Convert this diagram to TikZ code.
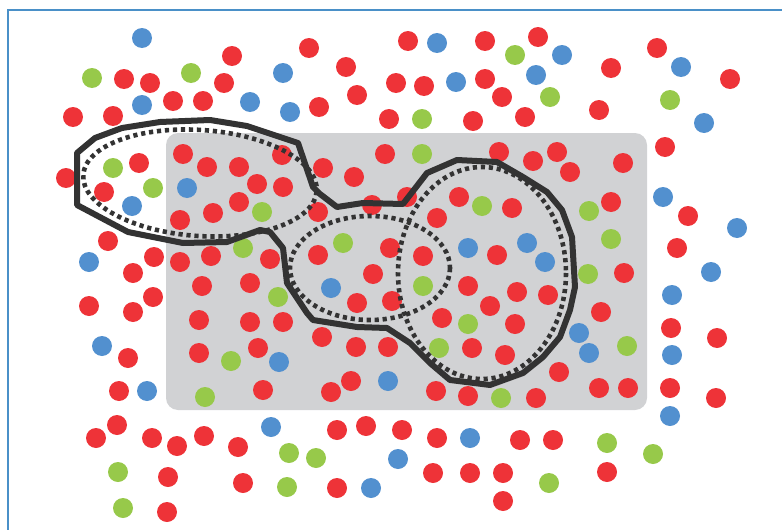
\documentclass[tikz,border=0pt]{standalone}
\usetikzlibrary{positioning}

\definecolor{dotred}{HTML}{EE3338}
\definecolor{dotblue}{HTML}{5290CF}
\definecolor{dotgreen}{HTML}{97C94A}
\definecolor{boxgray}{HTML}{D1D2D4}
\definecolor{inkdark}{HTML}{333333}
\definecolor{frameblue}{HTML}{4A90C8}

\begin{document}
\begin{tikzpicture}[
    x=1pt, y=-1pt,
    dot/.style      = {circle, minimum size=20pt, inner sep=0pt},
    reddot/.style   = {dot, fill=dotred},
    bluedot/.style  = {dot, fill=dotblue},
    greendot/.style = {dot, fill=dotgreen},
    region/.style   = {fill=boxgray, rounded corners=12pt},
    outline/.style  = {draw=inkdark, line width=6pt, line join=round},
    dotline/.style  = {draw=inkdark, line width=4.6pt, dash pattern=on 4.2pt off 3.8pt},
]

\useasboundingbox (0,0) rectangle (782,530);

%% ---- Frame ----
\draw[frameblue, line width=2pt] (8,531) -- (8,10) -- (783,10);

%% ---- Gray region ----
\fill[region] (166,133) rectangle (647,410);

%% ---- Red points ----
\foreach \x/\y [count=\i] in {
    232/56, 309/48, 408/41, 485/41, 538/37, 657/48, 611/68, 730/79,
    124/79, 150/83, 224/83, 346/67, 396/83, 424/86, 485/79, 502/97,
    357/95, 173/101, 203/101, 319/107, 73/117, 113/116, 389/119, 473/121,
    525/117, 599/110, 665/147, 183/154, 207/167, 239/167, 139/163, 66/178,
    104/192, 282/155, 323/168, 354/177, 385/154, 499/152, 533/161, 557/152,
    570/172, 623/163, 257/184, 283/187, 180/220, 213/213, 239/202, 318/212,
    372/205, 407/197, 459/197, 512/208, 437/218, 611/202, 688/216, 108/241,
    154/257, 133/273, 180/262, 211/256, 270/259, 318/255, 390/248, 423/256,
    497/255, 677/248, 373/274, 250/283, 202/286, 89/306, 153/297, 133/312,
    357/303, 392/301, 468/286, 517/292, 548/295, 624/273, 490/306, 601/312,
    199/320, 250/322, 283/322, 442/318, 515/324, 671/328, 717/338, 322/337,
    356/347, 388/347, 472/348, 505/355, 258/348, 199/353, 128/358, 559/372,
    119/391, 263/390, 331/392, 351/381, 436/391, 468/396, 536/398, 599/388,
    628/388, 670/388, 716/398, 117/425, 96/438, 152/438, 177/446, 204/436,
    238/447, 337/430, 366/426, 402/430, 437/438, 520/440, 553/440, 168/477,
    243/483, 433/473, 470/473, 503/473, 503/501, 337/488, 167/512, 607/472}
    \node[reddot] (R\i) at (\x,\y) {};

%% ---- Blue points ----
\foreach \x/\y [count=\i] in {
    142/38, 437/43, 562/55, 283/73, 456/82, 536/75, 681/67, 142/105,
    250/102, 290/112, 704/123, 187/188, 132/206, 663/197, 737/228, 89/262,
    468/248, 527/243, 545/262, 711/272, 331/288, 672/295, 579/333, 102/346,
    589/353, 672/355, 279/362, 147/391, 388/381, 670/416, 271/427, 470/438,
    398/459, 371/488}
    \node[bluedot] (B\i) at (\x,\y) {};

%% ---- Green points ----
\foreach \x/\y [count=\i] in {
    92/78, 191/73, 515/55, 550/97, 670/100, 422/119, 113/168, 153/188,
    422/154, 262/212, 482/206, 589/211, 611/239, 343/243, 243/248, 588/274,
    423/286, 278/297, 468/324, 627/346, 439/348, 231/361, 205/397, 501/398,
    289/453, 316/458, 287/487, 118/472, 123/508, 607/443, 653/454, 549/483}
    \node[greendot] (G\i) at (\x,\y) {};

%% ---- Dotted clusters ----
\draw[dotline, rotate around={-4:(200,183)}] (200,183) ellipse [x radius=117, y radius=53];
\draw[dotline] (370,268) ellipse [x radius=80, y radius=52];
\draw[dotline] (482,273) ellipse [x radius=84, y radius=106];

%% ---- Solid outline ----
\draw[outline] (77,153) -- (95,138) -- (122,128) -- (160,122) -- (210,120)
    -- (247,126) -- (298,143) -- (313,187) -- (320,194) -- (337,207)
    -- (363,203) -- (403,204) -- (427,173) -- (457,160) -- (497,162)
    -- (523,177) -- (547,192) -- (562,210) -- (572,237) -- (575,287)
    -- (570,310) -- (560,337) -- (543,357) -- (523,373) -- (490,385)
    -- (450,380) -- (430,363) -- (410,343) -- (387,328) -- (357,327)
    -- (313,320) -- (307,313) -- (287,283) -- (283,248) -- (270,232)
    -- (260,230) -- (227,242) -- (183,243) -- (128,232) -- (77,205) -- cycle;

\end{tikzpicture}
\end{document}
